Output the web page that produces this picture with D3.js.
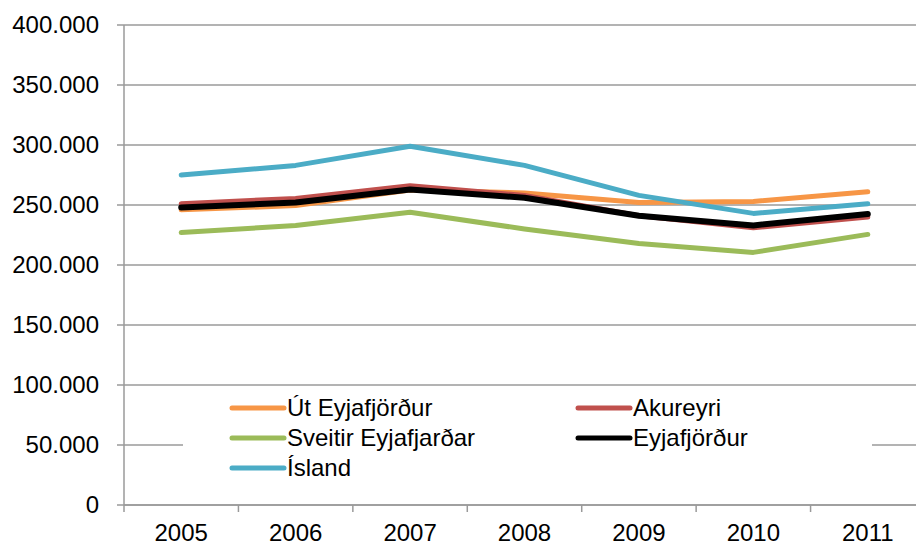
<!DOCTYPE html>
<html>
<head>
<meta charset="utf-8">
<script src="https://cdn.jsdelivr.net/npm/d3@7"></script>
<style>
  body { margin: 0; background: #fff; }
  svg text { font-family: "Liberation Sans", "DejaVu Sans", sans-serif; fill: #000; }
</style>
</head>
<body>
<div id="chart"></div>
<script>
// data
const years = ["2005", "2006", "2007", "2008", "2009", "2010", "2011"];
const utEyjafjordur = [246000, 249500, 262500, 260000, 252000, 253000, 261000];
const akureyri = [251000, 255500, 266000, 258000, 241000, 231000, 240000];
const sveitir = [227000, 233000, 244000, 230000, 218000, 210500, 225500];
const eyjafjordur = [248000, 252000, 263000, 256000, 241000, 233000, 242500];
const island = [275000, 283000, 299000, 283000, 258000, 243000, 251000];
const yTicks = [0, 50000, 100000, 150000, 200000, 250000, 300000, 350000, 400000];

const series = [
    { name: "Út Eyjafjörður", values: utEyjafjordur, color: "#F79646", w: 5 },
    { name: "Akureyri", values: akureyri, color: "#C0504D", w: 5 },
    { name: "Sveitir Eyjafjarðar", values: sveitir, color: "#9BBB59", w: 5 },
    { name: "Eyjafjörður", values: eyjafjordur, color: "#000000", w: 6 },
    { name: "Ísland", values: island, color: "#4BACC6", w: 5 }
];

const margin = { top: 25, right: 0, bottom: 43, left: 124 };
const width = 916 - margin.left - margin.right;
const height = 548 - margin.top - margin.bottom;

const svg = d3.select("#chart")
    .append("svg")
    .attr("width", 916)
    .attr("height", 548)
    .append("g")
    .attr("transform", "translate(" + margin.left + "," + margin.top + ")");

const x = d3.scaleBand()
    .domain(years)
    .range([0, 801]);

const y = d3.scaleLinear()
    .domain([0, 400000])
    .range([height, 0]);

const fmt = d => d3.format(",")(d).replace(/,/g, ".");

// gridlines
svg.append("g")
    .selectAll("line")
    .data(yTicks)
    .enter().append("line")
    .attr("x1", -7)
    .attr("x2", width)
    .attr("y1", d => y(d))
    .attr("y2", d => y(d))
    .attr("stroke", "#9a9a9a")
    .attr("stroke-width", 1.5);

// y axis labels
svg.append("g")
    .selectAll("text")
    .data(yTicks)
    .enter().append("text")
    .attr("x", -25)
    .attr("y", d => y(d))
    .attr("dy", "0.35em")
    .attr("text-anchor", "end")
    .style("font-size", "24px")
    .text(fmt);

// y axis line
svg.append("line")
    .attr("x1", 0).attr("x2", 0)
    .attr("y1", 0).attr("y2", height)
    .attr("stroke", "#9a9a9a")
    .attr("stroke-width", 1.5);

// x axis
const xAxis = svg.append("g")
    .attr("transform", "translate(0," + height + ")")
    .call(d3.axisBottom(x).tickSize(0).tickPadding(19));
xAxis.select(".domain")
    .attr("stroke", "#9a9a9a")
    .attr("stroke-width", 1.5)
    .attr("d", "M0,0H" + width);
xAxis.selectAll("text")
    .style("font-size", "24px")
    .style("font-family", "\"Liberation Sans\", sans-serif");

svg.append("g")
    .attr("transform", "translate(0," + height + ")")
    .selectAll("line")
    .data(years.concat(["end"]))
    .enter().append("line")
    .attr("x1", (d, i) => i * x.step())
    .attr("x2", (d, i) => i * x.step())
    .attr("y1", 0)
    .attr("y2", 7)
    .attr("stroke", "#9a9a9a")
    .attr("stroke-width", 1.5);

// lines
const line = d3.line()
    .x((d, i) => x(years[i]) + x.bandwidth() / 2)
    .y(d => y(d));

svg.selectAll(".series")
    .data(series)
    .enter().append("path")
    .attr("class", "series")
    .attr("fill", "none")
    .attr("stroke", d => d.color)
    .attr("stroke-width", d => d.w)
    .attr("stroke-linecap", "round")
    .attr("stroke-linejoin", "round")
    .attr("d", d => line(d.values));

// legend
const legend = svg.append("g")
    .attr("transform", "translate(59,366)");

legend.append("rect")
    .attr("x", 0)
    .attr("y", 0)
    .attr("width", 689)
    .attr("height", 96)
    .attr("fill", "#fff");

const legendItems = legend.selectAll(".legend-item")
    .data(series)
    .enter().append("g")
    .attr("class", "legend-item")
    .attr("transform", (d, i) => "translate(" + (49 + (i % 2) * 346) + "," + (17 + Math.floor(i / 2) * 30) + ")");

legendItems.append("line")
    .attr("x1", 0)
    .attr("x2", 52)
    .attr("stroke", d => d.color)
    .attr("stroke-width", 5)
    .attr("stroke-linecap", "round");

legendItems.append("text")
    .attr("x", 55)
    .attr("dy", "0.35em")
    .style("font-size", "24px")
    .text(d => d.name);
</script>
</body>
</html>
